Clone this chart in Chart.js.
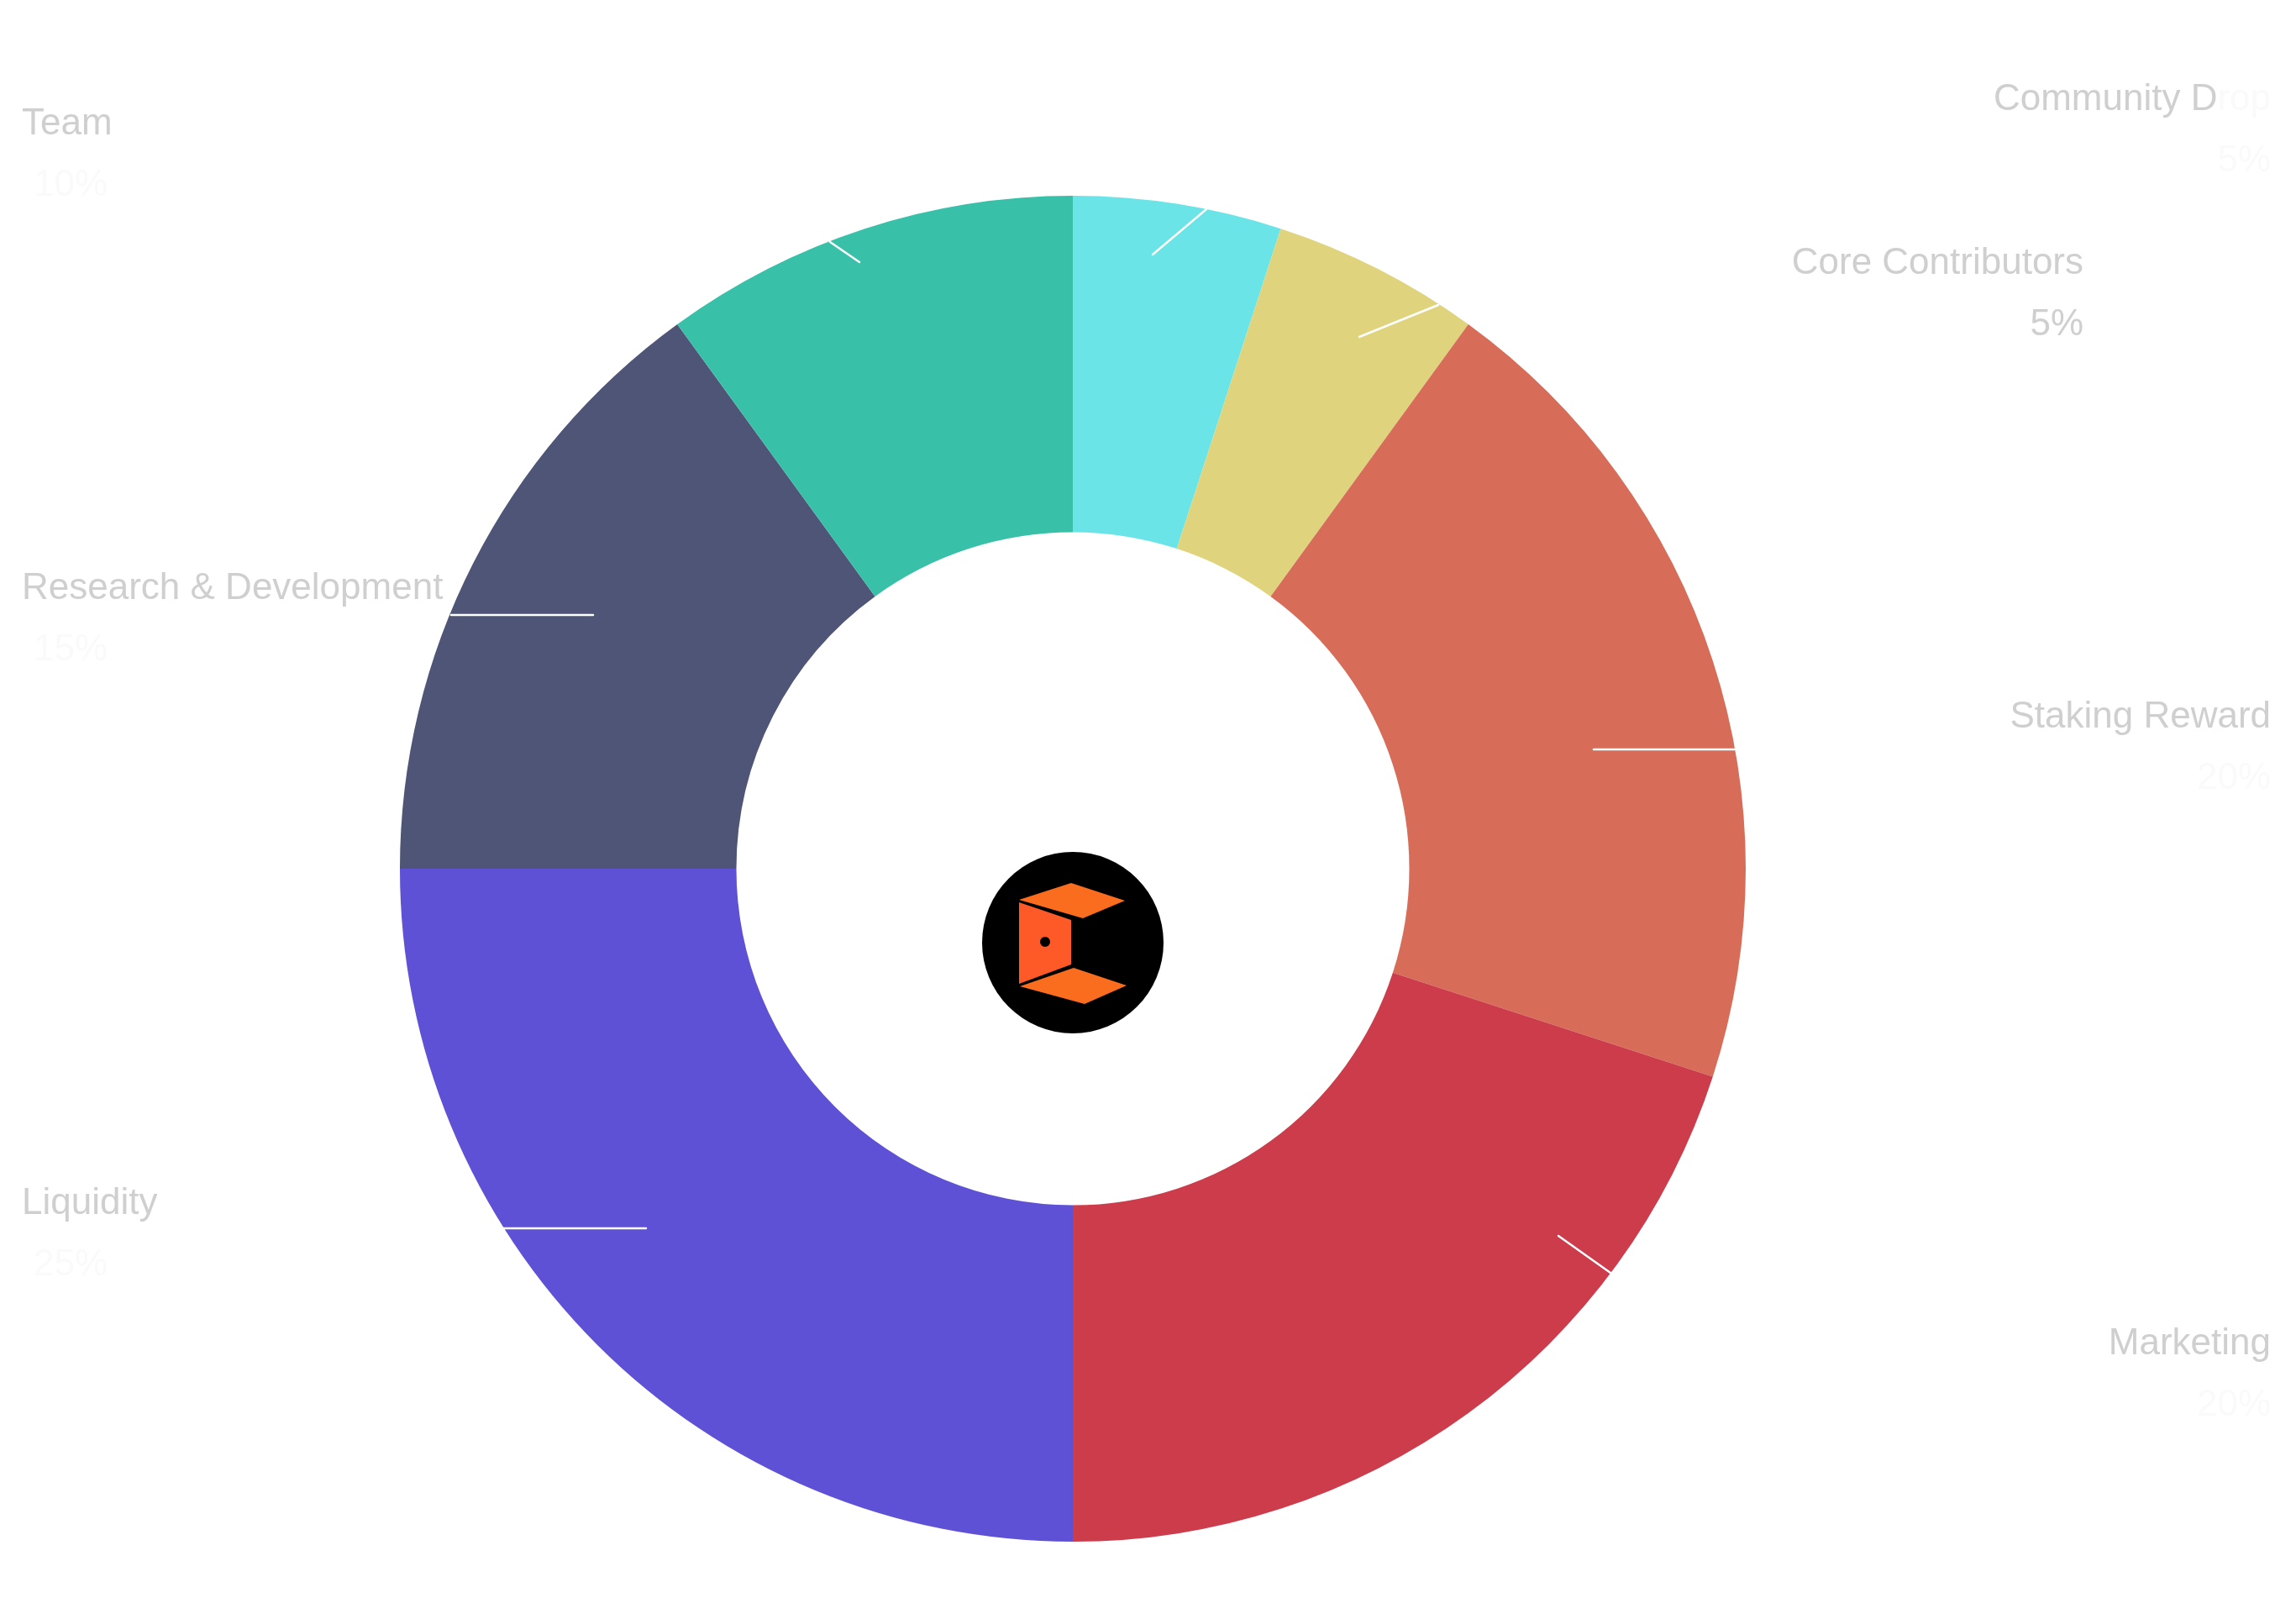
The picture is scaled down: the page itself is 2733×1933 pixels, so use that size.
<!DOCTYPE html>
<html><head><meta charset="utf-8">
<script src="https://cdn.jsdelivr.net/npm/chart.js@4.4.1/dist/chart.umd.min.js"></script>
<style>html,body{margin:0;padding:0;background:#fff;overflow:hidden}canvas{display:block}</style>
</head><body>
<canvas id="c" width="2733" height="1933"></canvas>
<script>
// ---- data ----
const categories = ['Community Drop', 'Core Contributors', 'Staking Reward', 'Marketing', 'Liquidity', 'Research & Development', 'Team'];
const allocation = [5, 5, 20, 20, 25, 15, 10];
const sliceColors = ['#6ae4e6', '#dfd47d', '#d76d58', '#cc3c4b', '#5e51d6', '#4f5576', '#38c0a8'];
const visibleChars = [11, 17, 14, 9, 9, 22, 4];      // part of each name drawn at full grey
const percentVisible = [false, true, false, false, false, false, false];

// ---- label layout (styling only) ----
const labelLayout = [
  {x: 2703, y: 131,  align: 'right', px: 2703, line: [1372, 303, 1436, 249]},
  {x: 2480, y: 326,  align: 'right', px: 2480, line: [1618, 401, 1712, 363]},
  {x: 2703, y: 866,  align: 'right', px: 2703, line: [1897, 892, 2065, 892]},
  {x: 2703, y: 1612, align: 'right', px: 2703, line: [1855, 1471, 1917, 1515]},
  {x: 26,   y: 1445, align: 'left',  px: 40,   line: [598, 1462, 769, 1462]},
  {x: 26,   y: 713,  align: 'left',  px: 40,   line: [537, 732, 706, 732]},
  {x: 26,   y: 160,  align: 'left',  px: 40,   line: [988, 288, 1023, 312]}
];
const FONT = '44px "Liberation Sans", Helvetica, Arial, sans-serif';
const TEXT_COLOR = '#cfcfcf';
const FAINT_COLOR = '#fafafa';

const overlay = {
  id: 'overlay',
  afterDatasetsDraw(chart) {
    const ctx = chart.ctx;
    const arc = chart.getDatasetMeta(0).data[0];
    const cx = arc.x, cy = arc.y;
    ctx.save();
    // leader lines
    ctx.strokeStyle = '#ffffff';
    ctx.lineWidth = 2.5;
    ctx.lineCap = 'round';
    labelLayout.forEach(l => {
      ctx.beginPath();
      ctx.moveTo(l.line[0], l.line[1]);
      ctx.lineTo(l.line[2], l.line[3]);
      ctx.stroke();
    });
    // labels
    ctx.font = FONT;
    ctx.textBaseline = 'alphabetic';
    categories.forEach((name, i) => {
      const l = labelLayout[i];
      const head = name.slice(0, visibleChars[i]);
      const tail = name.slice(visibleChars[i]);
      const wHead = ctx.measureText(head).width;
      const wAll = ctx.measureText(name).width;
      const left = l.align === 'right' ? l.x - wAll : l.x;
      ctx.textAlign = 'left';
      ctx.fillStyle = TEXT_COLOR;
      ctx.fillText(head, left, l.y);
      if (tail) { ctx.fillStyle = FAINT_COLOR; ctx.fillText(tail, left + wHead, l.y); }
      // percentage
      const pct = allocation[i] + '%';
      ctx.fillStyle = percentVisible[i] ? TEXT_COLOR : FAINT_COLOR;
      ctx.textAlign = l.align;
      ctx.fillText(pct, l.px, l.y + 73);
    });
    // center logo
    const lx = cx, ly = cy + 88;
    ctx.fillStyle = '#000000';
    ctx.beginPath(); ctx.arc(lx, ly, 108, 0, Math.PI * 2); ctx.fill();
    const poly = (pts, col) => {
      ctx.fillStyle = col; ctx.beginPath();
      pts.forEach((p, k) => k ? ctx.lineTo(lx + p[0], ly + p[1]) : ctx.moveTo(lx + p[0], ly + p[1]));
      ctx.closePath(); ctx.fill();
    };
    poly([[-64, -51], [-2, -71], [62, -50], [12, -29]], '#fb6d1e');
    poly([[-64, -48], [-2, -27], [-2, 26], [-64, 49]], '#fe5a28');
    poly([[-63, 52], [1, 30], [64, 51], [14, 73]], '#fb6d1e');
    ctx.fillStyle = '#000000';
    ctx.beginPath(); ctx.arc(lx - 33, ly - 1, 6, 0, Math.PI * 2); ctx.fill();
    ctx.restore();
  }
};

new Chart(document.getElementById('c').getContext('2d'), {
  type: 'doughnut',
  data: {labels: categories, datasets: [{data: allocation, backgroundColor: sliceColors, borderWidth: 0}]},
  options: {
    responsive: false, devicePixelRatio: 1, animation: false, cutout: '50%',
    layout: {padding: {left: 476, right: 655, top: 233, bottom: 98}},
    plugins: {legend: {display: false}, tooltip: {enabled: false}}
  },
  plugins: [overlay]
});
</script>
</body></html>
